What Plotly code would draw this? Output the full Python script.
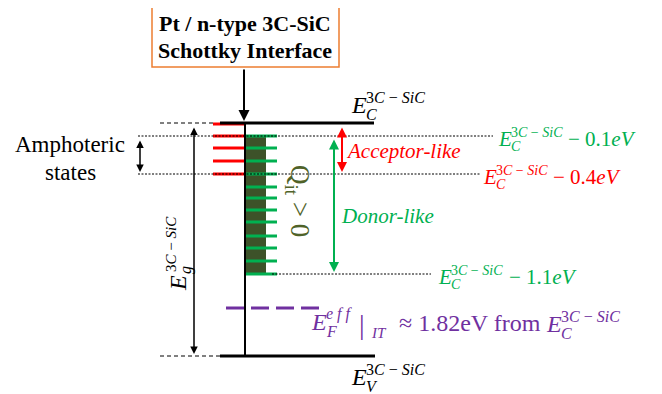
import plotly.graph_objects as go

# ---------------- data (schematic diagram levels, diagram units: y grows downward) ----------------
title_lines = ["Pt / n-type 3C-SiC", "Schottky Interface"]
band_edge_names = ["E_C", "E_V"]
band_edge_y = [123, 356]
acceptor_state_y = [124, 136, 148, 161, 174]
donor_state_y = [136, 148, 161, 174, 187, 198, 210, 222, 236, 248, 261, 274]
trap_offsets = ["− 0.1", "− 0.4", "− 1.1"]
trap_level_y = [136, 174, 274]
trap_colors = ["#00B050", "#FF0000", "#00B050"]
fermi_level_y = 308
fermi_text = "≈ 1.82eV from"
amphoteric_lines = ["Amphoteric", "states"]
region_labels = ["Acceptor-like", "Donor-like"]

SERIF = "Liberation Serif"
GREEN = "#00B050"
RED = "#FF0000"
PURPLE = "#7030A0"
OLIVE = "#4F6228"

fig = go.Figure()

def line(x0, y0, x1, y1, color="black", width=1, dash=None):
    fig.add_shape(type="line", x0=x0, y0=y0, x1=x1, y1=y1, xref="x", yref="y",
                  line=dict(color=color, width=width, dash=dash))

def text(x, y, s, size, color="black", xanchor="left", yanchor="middle", angle=0, family=SERIF):
    fig.add_annotation(x=x, y=y, text=s, showarrow=False, xanchor=xanchor, yanchor=yanchor,
                       textangle=angle, font=dict(family=family, size=size, color=color),
                       xref="x", yref="y", borderpad=0)

def arrow(x0, y0, x1, y1, color="black", width=1.5, double=False, size=1.0):
    fig.add_annotation(x=x1, y=y1, ax=x0, ay=y0, xref="x", yref="y", axref="x", ayref="y",
                       text="", showarrow=True, arrowhead=2, arrowsize=size, arrowwidth=width,
                       arrowcolor=color, arrowside="end+start" if double else "end",
                       startarrowhead=2, startarrowsize=size, standoff=0, startstandoff=0,
                       font=dict(size=10))

def mathE(x, y, sub, sup, color, size, ssize):
    text(x, y, "<i>E</i>", size, color)
    sx = x + 0.62 * size
    text(sx, y + 0.38 * size, "<i>%s</i>" % sub, ssize, color)
    text(sx, y - 0.32 * size, sup, ssize, color)
    return sx

SUP = "3<i>C</i> − <i>SiC</i>"

# ---------------- title box and arrow ----------------
fig.add_shape(type="rect", x0=152, x1=339, y0=6, y1=67, line=dict(color="#ED7D31", width=1.5),
              fillcolor="white")
text(245, 23, "<b>%s</b>" % title_lines[0], 22, xanchor="center")
text(245, 50, "<b>%s</b>" % title_lines[1], 22, xanchor="center")
arrow(244, 68, 244, 121, width=2, size=1.1)

# ---------------- dashed guides ----------------
line(160, band_edge_y[0], 214, band_edge_y[0], width=1, dash="4px,3px")
line(160, band_edge_y[1], 220, band_edge_y[1], width=1, dash="4px,3px")

# ---------------- interface states ----------------
fig.add_shape(type="rect", x0=245, x1=266, y0=donor_state_y[0], y1=donor_state_y[-1],
              line=dict(width=0), fillcolor="#3D5229")
for yy in acceptor_state_y:
    line(213, yy, 244, yy, color=RED, width=3)
for yy in donor_state_y:
    line(245, yy, 277, yy, color=GREEN, width=3)

# ---------------- band edges ----------------
line(220, band_edge_y[0], 374, band_edge_y[0], width=3)
line(220, band_edge_y[1], 375, band_edge_y[1], width=3)
line(245, band_edge_y[0], 245, band_edge_y[1], width=2)

# Fermi level
line(226, fermi_level_y, 320, fermi_level_y, color=PURPLE, width=3, dash="18px,7px")

# ---------------- arrows ----------------
arrow(194, 126, 194, 354, double=True, width=1.5)
arrow(140, 139, 140, 172, double=True, width=1.5)
arrow(342, 126, 342, 172, color=RED, double=True, width=2)
arrow(334, 138, 334, 272, color=GREEN, double=True, width=2)

# ---------------- labels ----------------
text(70, 144, amphoteric_lines[0], 23, xanchor="center")
text(70, 172, amphoteric_lines[1], 23, xanchor="center")

text(345, 151, "<i>%s</i>" % region_labels[0], 21, RED)
text(340, 216, "<i>%s</i>" % region_labels[1], 21, GREEN)

text(298, 201, "Q<sub>it</sub> > 0", 27, OLIVE, xanchor="center", angle=90)

# dotted guides drawn above the Q label (as in the reference)
line(138, trap_level_y[0], 493, trap_level_y[0], width=1, dash="2px,1.5px")
line(138, trap_level_y[1], 480, trap_level_y[1], width=1, dash="2px,1.5px")
line(272, trap_level_y[2], 431, trap_level_y[2], width=1, dash="2px,1.5px")

# Eg (rotated)
text(178, 283, "<i>E</i>", 24, angle=-90, xanchor="center")
text(186, 270, "<i>g</i>", 16, angle=-90, xanchor="center")
text(171, 244, SUP, 15, angle=-90, xanchor="center")

# band edge labels
mathE(350, 105, "C", SUP, "black", 24, 16)
mathE(350, 377, "V", SUP, "black", 24, 16)

# trap levels
tail_x = [567, 552, 508]
E_x = [497, 482, 437]
for i in range(3):
    mathE(E_x[i], trap_level_y[i] + 3, "C", SUP, trap_colors[i], 21, 14)
    text(tail_x[i], trap_level_y[i] + 3, "%s<i>eV</i>" % trap_offsets[i], 21, trap_colors[i])

# Fermi level label
mathE(310, 322, "F", "<i>e f f</i>", PURPLE, 24, 16)
text(362, 324, "|", 28, PURPLE, xanchor="center")
text(370, 333, "<i>IT</i>", 15, PURPLE)
text(398, 323, fermi_text, 24, PURPLE)
mathE(545, 324, "C", SUP, PURPLE, 24, 16)

# the page body has an 8px margin: shift the figure so diagram units equal window pixels
fig.update_layout(width=654, height=386, margin=dict(l=0, r=0, t=0, b=0),
                  paper_bgcolor="white", plot_bgcolor="white", showlegend=False,
                  xaxis=dict(range=[8, 662], visible=False, fixedrange=True),
                  yaxis=dict(range=[394, 8], visible=False, fixedrange=True))

fig.write_html("out.html")
